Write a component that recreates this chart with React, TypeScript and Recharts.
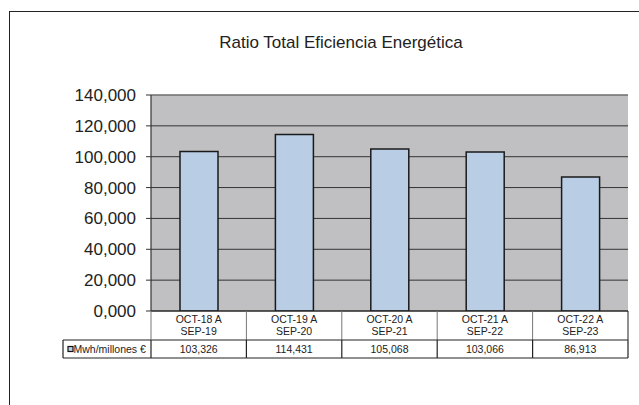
import React from 'react';
import { BarChart, Bar, XAxis, YAxis, CartesianGrid, ReferenceLine } from 'recharts';

const title = 'Ratio Total Eficiencia Energética';
const seriesName = 'Mwh/millones €';
const periodStart = ['OCT-18 A', 'OCT-19 A', 'OCT-20 A', 'OCT-21 A', 'OCT-22 A'];
const periodEnd = ['SEP-19', 'SEP-20', 'SEP-21', 'SEP-22', 'SEP-23'];
const values = [103.326, 114.431, 105.068, 103.066, 86.913];
const yTicks = [0, 20, 40, 60, 80, 100, 120, 140];

const data = periodStart.map((p, i) => ({ cat: p + ' ' + periodEnd[i], value: values[i] }));

const W = 639;
const H = 405;
const MARGIN = { top: 95, right: 11, bottom: 46, left: 0 };
const Y_W = 151;
const X_H = 48;
const PLOT_LEFT = MARGIN.left + Y_W;
const PLOT_RIGHT = W - MARGIN.right;
const PLOT_BOTTOM = H - MARGIN.bottom - X_H;
const BAND = (PLOT_RIGHT - PLOT_LEFT) / data.length;
const FONT = '"Liberation Sans", Arial, Helvetica, sans-serif';
const fmt = (v: number) => v.toFixed(3).replace('.', ',');

const TableTick = (props: any) => {
  const { x, payload } = props;
  const i = payload.index;
  const left = x - BAND / 2;
  const right = x + BAND / 2;
  const top = PLOT_BOTTOM;
  const mid = top + 29;
  const bot = top + 47;
  const last = i === data.length - 1;
  const textProps = { textAnchor: 'middle' as const, fontSize: 10.5, fill: '#222', fontFamily: FONT };
  return (
    <g>
      <line x1={right} y1={top} x2={right} y2={mid} stroke={last ? '#222' : '#777'} strokeWidth={1} />
      <line x1={right} y1={mid} x2={right} y2={bot} stroke="#222" strokeWidth={1.2} />
      <line x1={left} y1={mid} x2={right} y2={mid} stroke="#222" strokeWidth={1.2} />
      <line x1={left} y1={bot} x2={right} y2={bot} stroke="#222" strokeWidth={1.2} />
      <text x={x} y={top + 12} {...textProps}>{periodStart[i]}</text>
      <text x={x} y={top + 24} {...textProps}>{periodEnd[i]}</text>
      <text x={x} y={mid + 13} {...textProps}>{fmt(values[i])}</text>
      {i === 0 && (
        <g>
          <line x1={left} y1={top} x2={left} y2={mid} stroke="#777" strokeWidth={1} />
          <line x1={left} y1={mid} x2={left} y2={bot} stroke="#222" strokeWidth={1.2} />
          <line x1={63} y1={mid} x2={left} y2={mid} stroke="#222" strokeWidth={1.2} />
          <line x1={63} y1={bot} x2={left} y2={bot} stroke="#222" strokeWidth={1.2} />
          <line x1={63} y1={mid} x2={63} y2={bot} stroke="#222" strokeWidth={1.2} />
          <rect x={68} y={346.5} width={5} height={5} fill="#b9cde5" stroke="#111" strokeWidth={1.2} />
          <text x={73.5} y={mid + 13} fontSize={10.5} fill="#222" fontFamily={FONT}>{seriesName}</text>
        </g>
      )}
    </g>
  );
};

export default function App() {
  return (
    <div style={{ position: 'absolute', left: 0, top: 0, width: W, height: H, overflow: 'hidden', background: '#fff' }}>
      <div style={{ position: 'absolute', left: 9, top: 11, width: 900, height: 700, border: '1.5px solid #222', boxSizing: 'border-box' }} />
      <div style={{ position: 'absolute', left: 0, top: 33, width: 682, textAlign: 'center', fontFamily: FONT, fontSize: 17, lineHeight: '20px', color: '#222' }}>
        {title}
      </div>
      <div style={{ position: 'absolute', left: 0, top: 0 }}>
        <BarChart width={W} height={H} data={data} margin={MARGIN}>
          <CartesianGrid yAxisId="left" vertical={false} horizontal={true} stroke="#333" fill="#c0c0c2" fillOpacity={1} />
          <XAxis dataKey="cat" height={X_H} interval={0} tickLine={false} tickSize={0} tickMargin={0}
            axisLine={{ stroke: '#222', strokeWidth: 1.2 }} tick={<TableTick />} />
          <YAxis yAxisId="left" width={Y_W} domain={[0, 140]} ticks={yTicks} tickFormatter={fmt}
            tickSize={5} tickMargin={10} axisLine={{ stroke: '#333', strokeWidth: 1.2 }} tickLine={{ stroke: '#333' }}
            tick={{ fontSize: 17, fill: '#222', fontFamily: FONT }} allowDataOverflow />
          <YAxis yAxisId="right" orientation="right" width={0} domain={[0, 140]} tick={false} tickLine={false}
            axisLine={{ stroke: '#8a8a8a', strokeWidth: 1.2 }} />
          <ReferenceLine yAxisId="left" y={140} stroke="#8a8a8a" strokeWidth={1.2} />
          <Bar yAxisId="left" dataKey="value" name={seriesName} fill="#b9cde5" stroke="#1a1a1a" strokeWidth={1.5}
            barSize={38} isAnimationActive={false} />
        </BarChart>
      </div>
    </div>
  );
}
